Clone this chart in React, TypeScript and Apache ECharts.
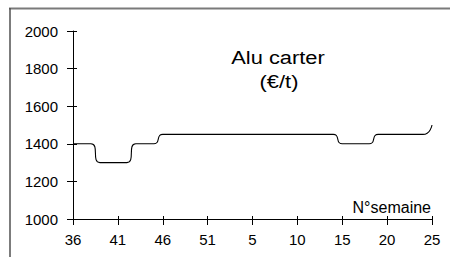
import React, { useEffect, useRef } from "react";
import * as echarts from "echarts";

const weeks: string[] = [
  "36", "37", "38", "39", "40", "41", "42", "43", "44", "45", "46", "47", "48", "49", "50", "51",
  "1", "2", "3", "4", "5", "6", "7", "8", "9", "10", "11", "12", "13", "14", "15", "16", "17", "18",
  "19", "20", "21", "22", "23", "24", "25",
];

const prices: number[] = [
  1400, 1400, 1400, 1300, 1300, 1300, 1300, 1400, 1400, 1400, 1450, 1450, 1450, 1450, 1450, 1450,
  1450, 1450, 1450, 1450, 1450, 1450, 1450, 1450, 1450, 1450, 1450, 1450, 1450, 1450, 1400, 1400,
  1400, 1400, 1450, 1450, 1450, 1450, 1450, 1450, 1500,
];

const yMin = 1000;
const yMax = 2000;
const yStep = 200;

const titleLine1 = "Alu carter";
const titleLine2 = "(€/t)";
const xName = "N°semaine";

const FONT = "'Liberation Sans', Arial, Helvetica, sans-serif";

export default function App() {
  const ref = useRef<HTMLDivElement>(null);

  useEffect(() => {
    if (!ref.current) return;
    const chart = echarts.init(ref.current, undefined, { renderer: "svg" });
    chart.setOption({
      animation: false,
      backgroundColor: "#ffffff",
      textStyle: { fontFamily: FONT },
      grid: { left: 73, right: 18, top: 31, bottom: 38, containLabel: false },
      xAxis: [
        {
          type: "category",
          data: weeks,
          boundaryGap: false,
          position: "bottom",
          axisLine: { show: true, lineStyle: { color: "#000", width: 1 } },
          axisTick: { show: true, interval: 4, length: 6, inside: false, lineStyle: { color: "#000" } },
          axisLabel: { interval: 4, margin: 13, fontSize: 15, color: "#000", fontFamily: FONT },
          splitLine: { show: false },
        },
        {
          type: "category",
          data: weeks,
          boundaryGap: false,
          position: "bottom",
          offset: 0,
          axisLine: { show: false },
          axisTick: { show: true, interval: 4, length: 3, inside: true, lineStyle: { color: "#000" } },
          axisLabel: { show: false },
          splitLine: { show: false },
        },
      ],
      yAxis: [
        {
          type: "value",
          min: yMin,
          max: yMax,
          interval: yStep,
          position: "left",
          axisLine: { show: true, lineStyle: { color: "#000", width: 1 } },
          axisTick: { show: true, length: 6, inside: false, lineStyle: { color: "#000" } },
          axisLabel: {
            margin: 15,
            fontSize: 15,
            color: "#000",
            fontFamily: FONT,
            formatter: (v: number) => String(v),
          },
          splitLine: { show: false },
        },
        {
          type: "value",
          min: yMin,
          max: yMax,
          interval: yStep,
          position: "left",
          offset: 0,
          axisLine: { show: false },
          axisTick: { show: true, length: 4, inside: true, lineStyle: { color: "#000" } },
          axisLabel: { show: false },
          splitLine: { show: false },
        },
      ],
      series: [
        {
          type: "line",
          xAxisIndex: 0,
          yAxisIndex: 0,
          data: prices,
          smooth: 0.7,
          showSymbol: false,
          symbol: "none",
          lineStyle: { color: "#000", width: 1.1 },
        },
      ],
      graphic: [
        {
          type: "line",
          shape: { x1: 9, y1: 8.5, x2: 450, y2: 8.5 },
          style: { stroke: "#7a7a7a", lineWidth: 2 },
          silent: true,
        },
        {
          type: "line",
          shape: { x1: 10, y1: 8, x2: 10, y2: 257 },
          style: { stroke: "#505050", lineWidth: 1.5 },
          silent: true,
        },
        {
          type: "text",
          x: 278,
          y: 57,
          scaleX: 1.15,
          style: {
            text: titleLine1,
            fontSize: 19,
            fontFamily: FONT,
            fontWeight: "normal",
            fill: "#000",
            textAlign: "center",
            textVerticalAlign: "middle",
          },
        },
        {
          type: "text",
          x: 279,
          y: 81,
          scaleX: 1.15,
          style: {
            text: titleLine2,
            fontSize: 19,
            fontFamily: FONT,
            fontWeight: "normal",
            fill: "#000",
            textAlign: "center",
            textVerticalAlign: "middle",
          },
        },
        {
          type: "text",
          x: 431,
          y: 207,
          style: {
            text: xName,
            fontSize: 16,
            fontFamily: FONT,
            fontWeight: "normal",
            fill: "#000",
            textAlign: "right",
            textVerticalAlign: "middle",
          },
        },
      ],
    });
    return () => chart.dispose();
  }, []);

  return (
    <div
      ref={ref}
      style={{ position: "fixed", left: 0, top: 0, width: 450, height: 257, background: "#fff" }}
    />
  );
}
